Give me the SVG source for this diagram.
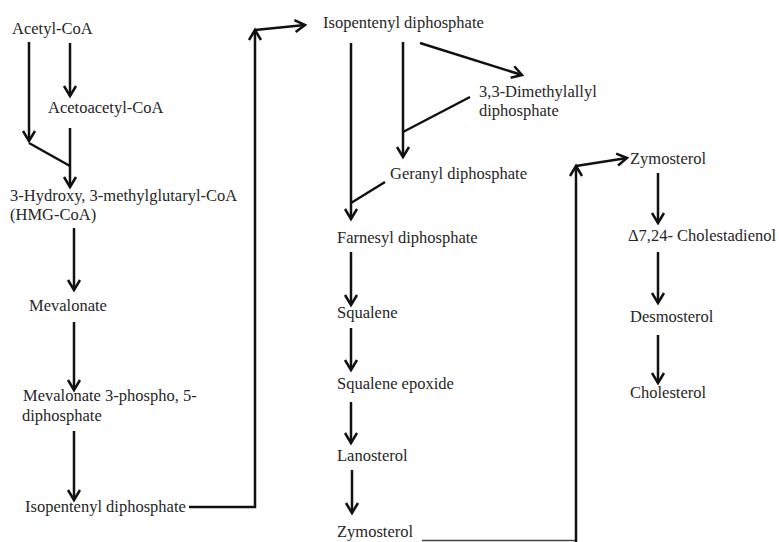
<svg xmlns="http://www.w3.org/2000/svg" width="779" height="542" viewBox="0 0 779 542">
<style>
text { font-family: "Liberation Serif", "Times New Roman", serif; font-size: 16.5px; fill: #262626; }
.c { fill: none; stroke: #111; stroke-width: 2.5; stroke-linecap: butt; }
.t { fill: none; stroke: #444; stroke-width: 1.5; }
</style>
<defs>
<marker id="ah" markerUnits="userSpaceOnUse" markerWidth="14" markerHeight="16" viewBox="0 0 14 16" refX="11" refY="7" orient="auto" overflow="visible">
<path d="M1,1 L11,7 L1,13" fill="none" stroke="#111" stroke-width="2.5"/>
</marker>
</defs>
<rect width="779" height="542" fill="#fff"/>
<g id="connectors">
<path class="c" d="M29,42 V141" marker-end="url(#ah)"/>
<path class="c" d="M70,43 V96" marker-end="url(#ah)"/>
<path class="c" d="M29,143 L70,166"/>
<path class="c" d="M70,128 V187" marker-end="url(#ah)"/>
<path class="c" d="M74,228 V290" marker-end="url(#ah)"/>
<path class="c" d="M74,322 V390" marker-end="url(#ah)"/>
<path class="c" d="M74,431 V500" marker-end="url(#ah)"/>
<path class="c" d="M189,507 H255 V30" marker-end="url(#ah)"/>
<path class="c" d="M255,30 L305,25" marker-end="url(#ah)"/>
<path class="c" d="M351,43 V219" marker-end="url(#ah)"/>
<path class="c" d="M403,42 V157" marker-end="url(#ah)"/>
<path class="c" d="M420,43 L522,75" marker-end="url(#ah)"/>
<path class="c" d="M470,97 L403,132"/>
<path class="c" d="M385,182 L351,203"/>
<path class="c" d="M351,252 V305" marker-end="url(#ah)"/>
<path class="c" d="M351,328 V370" marker-end="url(#ah)"/>
<path class="c" d="M351,402 V443" marker-end="url(#ah)"/>
<path class="c" d="M352,470 V513" marker-end="url(#ah)"/>
<path class="t" d="M422,540.5 H576"/>
<path class="c" d="M576,542 V166" marker-end="url(#ah)"/>
<path class="c" d="M576,166 L627,158" marker-end="url(#ah)"/>
<path class="c" d="M658,173 V223" marker-end="url(#ah)"/>
<path class="c" d="M658,252 V303" marker-end="url(#ah)"/>
<path class="c" d="M658,335 V383" marker-end="url(#ah)"/>
</g>
<g id="acetyl-coa"><text x="12" y="34">Acetyl-CoA</text></g>
<g id="acetoacetyl-coa"><text x="48" y="113">Acetoacetyl-CoA</text></g>
<g id="hmg-coa"><text x="10" y="201">3-Hydroxy, 3-methylglutaryl-CoA</text><text x="10" y="220">(HMG-CoA)</text></g>
<g id="mevalonate"><text x="29" y="311">Mevalonate</text></g>
<g id="mevalonate-pp"><text x="23" y="401">Mevalonate 3-phospho, 5-</text><text x="22" y="421">diphosphate</text></g>
<g id="ipp-1"><text x="25" y="512">Isopentenyl diphosphate</text></g>
<g id="ipp-2"><text x="323" y="28">Isopentenyl diphosphate</text></g>
<g id="dmapp"><text x="479" y="97">3,3-Dimethylallyl</text><text x="479" y="116">diphosphate</text></g>
<g id="gpp"><text x="390" y="179">Geranyl diphosphate</text></g>
<g id="fpp"><text x="337" y="243">Farnesyl diphosphate</text></g>
<g id="squalene"><text x="337" y="318">Squalene</text></g>
<g id="squalene-epoxide"><text x="337" y="389">Squalene epoxide</text></g>
<g id="lanosterol"><text x="337" y="461">Lanosterol</text></g>
<g id="zymosterol-1"><text x="337" y="537">Zymosterol</text></g>
<g id="zymosterol-2"><text x="630" y="164">Zymosterol</text></g>
<g id="cholestadienol"><text x="628" y="241">Δ7,24- Cholestadienol</text></g>
<g id="desmosterol"><text x="630" y="322">Desmosterol</text></g>
<g id="cholesterol"><text x="630" y="398">Cholesterol</text></g>
</svg>
